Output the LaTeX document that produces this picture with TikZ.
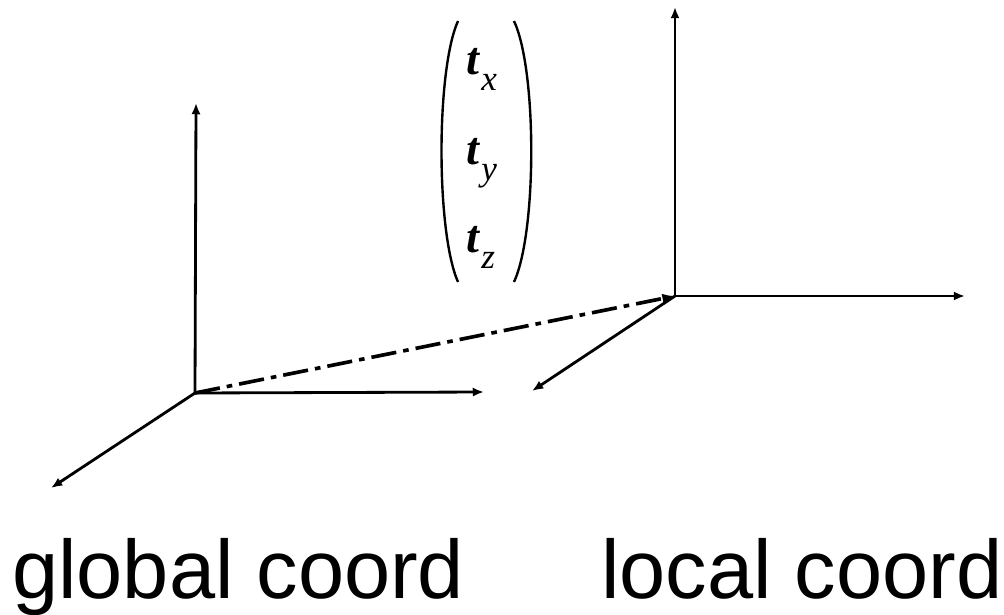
\documentclass[tikz,border=0pt]{standalone}
\usepackage{fontspec}
\setmainfont{Liberation Sans}
\newfontfamily\timesfont{Liberation Serif}
\usetikzlibrary{arrows.meta}
\tikzset{
  axis/.style={line width=2pt,-{Latex[length=8pt,width=6.5pt]}},
  shiftline/.style={line width=2.6pt,dash pattern=on 18pt off 5pt on 4pt off 5pt,-{Latex[length=9pt,width=7pt]}},
  paren/.style={line width=1.7pt},
  label/.style={font=\fontsize{59}{70}\selectfont,inner sep=0pt},
  comp/.style={font=\fontsize{33}{38}\selectfont\timesfont\bfseries\itshape,inner sep=0pt}
}
\newcommand{\tcomp}[1]{t\kern1.5pt\raisebox{-11pt}{\fontsize{25}{27}\selectfont\mdseries #1}}
\begin{document}
\begin{tikzpicture}[x=0.025cm,y=-0.025cm]
  \useasboundingbox (0,0) rectangle (1004,615);
  % global frame
  \coordinate (gO) at (195,393);
  \coordinate (gY) at (196,103);
  \coordinate (gX) at (484,392);
  \coordinate (gZ) at (51,488);
  \draw[axis] (gO) -- (gY);
  \draw[axis] (gO) -- (gX);
  \draw[axis] (gO) -- (gZ);
  % local frame
  \coordinate (lO) at (675,296);
  \coordinate (lY) at (675,7);
  \coordinate (lX) at (965,296);
  \coordinate (lZ) at (532,391);
  \draw[axis] (lO) -- (lY);
  \draw[axis] (lO) -- (lX);
  \draw[axis] (lO) -- (lZ);
  % translation
  \draw[shiftline] (gO) -- (lO);
  % translation vector
  \draw[paren] (458,21) .. controls (436,70) and (436,232) .. (458,282);
  \draw[paren] (514,21) .. controls (537,70) and (537,232) .. (514,282);
  \node[comp,anchor=base west] (tx) at (466,75) {\tcomp{x}};
  \node[comp,anchor=base west] (ty) at (466,165) {\tcomp{y}};
  \node[comp,anchor=base west] (tz) at (466,253) {\tcomp{z}};
  % captions
  \node[label,anchor=base west] (global) at (12,598) {global coord};
  \node[label,anchor=base west] (local) at (601,598) {local coord};
\end{tikzpicture}
\end{document}
